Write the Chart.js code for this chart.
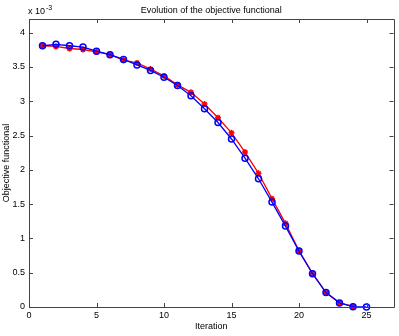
<!DOCTYPE html>
<html>
<head>
<meta charset="utf-8">
<script src="https://cdn.jsdelivr.net/npm/chart.js@4/dist/chart.umd.min.js"></script>
<style>
html,body{margin:0;padding:0;background:#fff;}
#wrap{width:399px;height:336px;}
</style>
</head>
<body>
<div id="wrap"><canvas id="c" width="399" height="336"></canvas></div>
<script>
// Values are in units of 1e-3
const iterations = [1,2,3,4,5,6,7,8,9,10,11,12,13,14,15,16,17,18,19,20,21,22,23,24,25];
const redSeries = [3.81,3.80,3.77,3.755,3.72,3.68,3.60,3.56,3.47,3.37,3.24,3.13,2.96,2.76,2.54,2.26,1.95,1.58,1.22,0.82,0.49,0.21,0.06,0.01];
const blueSeries = [3.81,3.83,3.81,3.79,3.73,3.68,3.61,3.53,3.45,3.35,3.23,3.08,2.89,2.69,2.45,2.17,1.87,1.53,1.18,0.815,0.485,0.21,0.06,0.005,0.0];
const xTicks = [0,5,10,15,20,25];
const yTicks = [0,0.5,1,1.5,2,2.5,3,3.5,4];
const titleText = 'Evolution of the objective functional';
const xLabel = 'Iteration';
const yLabel = 'Objective functional';

const FONT = '"Liberation Sans", Arial, sans-serif';

const framePlugin = {
  id: 'frame',
  afterDraw(chart) {
    const ctx = chart.ctx;
    const a = chart.chartArea;
    const xs = chart.scales.x, ys = chart.scales.y;
    ctx.save();
    ctx.strokeStyle = '#444';
    ctx.lineWidth = 1;
    ctx.beginPath();
    ctx.rect(Math.round(a.left)+0.5, Math.round(a.top)+0.5, Math.round(a.right-a.left), Math.round(a.bottom-a.top));
    ctx.stroke();
    ctx.beginPath();
    const tl = 4;
    xTicks.forEach(v => {
      const px = Math.round(xs.getPixelForValue(v))+0.5;
      ctx.moveTo(px, a.bottom); ctx.lineTo(px, a.bottom - tl);
      ctx.moveTo(px, a.top); ctx.lineTo(px, a.top + tl);
    });
    yTicks.forEach(v => {
      const py = Math.round(ys.getPixelForValue(v))+0.5;
      ctx.moveTo(a.left, py); ctx.lineTo(a.left + tl, py);
      ctx.moveTo(a.right, py); ctx.lineTo(a.right - tl, py);
    });
    ctx.stroke();
    // title
    ctx.fillStyle = '#000';
    ctx.font = '9px ' + FONT;
    ctx.textAlign = 'center';
    ctx.textBaseline = 'alphabetic';
    ctx.fillText(titleText, (a.left + a.right)/2, 13);
    // x label
    ctx.fillText(xLabel, (a.left + a.right)/2, 329);
    // multiplier
    ctx.textAlign = 'left';
    ctx.fillText('x 10', a.left - 1, 14);
    ctx.font = '7px ' + FONT;
    ctx.fillText('-3', a.left - 1 + 18, 10);
    // y label
    ctx.font = '9px ' + FONT;
    ctx.translate(9, (a.top + a.bottom)/2);
    ctx.rotate(-Math.PI/2);
    ctx.textAlign = 'center';
    ctx.fillText(yLabel, 0, 0);
    ctx.restore();
  }
};

new Chart(document.getElementById('c'), {
  type: 'line',
  data: {
    datasets: [
      {
        label: 'blue',
        data: blueSeries.map((v,i) => ({x: iterations[i], y: v})),
        borderColor: '#0000ff',
        backgroundColor: 'rgba(0,0,0,0)',
        pointBorderColor: '#0000ff',
        pointBackgroundColor: 'rgba(0,0,0,0)',
        pointStyle: 'circle',
        pointRadius: 3,
        pointBorderWidth: 1.5,
        borderWidth: 1.3,
        tension: 0,
        order: 0,
        clip: false
      },
      {
        label: 'red',
        data: redSeries.map((v,i) => ({x: iterations[i], y: v})),
        borderColor: '#ff0000',
        backgroundColor: '#ff0000',
        pointBorderColor: '#ff0000',
        pointBackgroundColor: '#ff0000',
        pointStyle: 'star',
        pointRadius: 3,
        pointBorderWidth: 1.5,
        borderWidth: 1.3,
        tension: 0,
        order: 1,
        clip: false
      }
    ]
  },
  options: {
    responsive: false,
    animation: false,
    events: [],
    layout: { padding: { top: 19, right: 4, left: 0, bottom: 0 } },
    plugins: { legend: { display: false }, title: { display: false }, tooltip: { enabled: false } },
    scales: {
      x: {
        type: 'linear', min: 0, max: 27,
        grid: { display: false, drawTicks: false },
        border: { display: false },
        afterBuildTicks(s) { s.ticks = xTicks.map(v => ({value: v})); },
        afterFit(s) { s.height = 29; },
        ticks: { color: '#000', font: { family: FONT, size: 9 }, padding: 3, maxRotation: 0, autoSkip: false }
      },
      y: {
        type: 'linear', min: 0, max: 4.2,
        grid: { display: false, drawTicks: false },
        border: { display: false },
        afterBuildTicks(s) { s.ticks = yTicks.map(v => ({value: v})); },
        afterFit(s) { s.width = 29; },
        ticks: { color: '#000', font: { family: FONT, size: 9 }, padding: 4, autoSkip: false,
          callback: v => String(v) }
      }
    }
  },
  plugins: [framePlugin]
});
</script>
</body>
</html>
